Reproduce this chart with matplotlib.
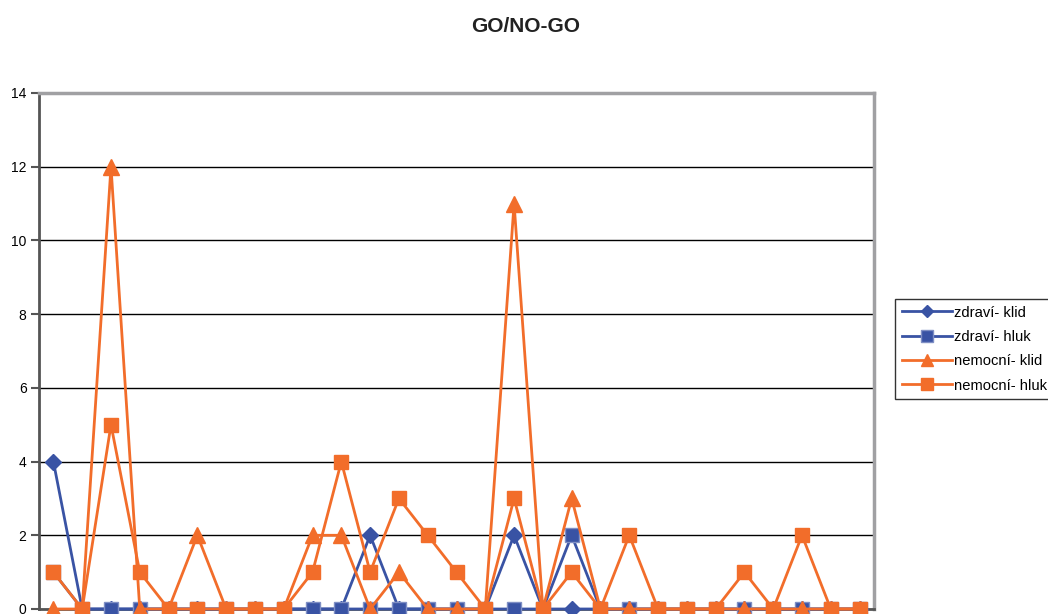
import matplotlib.pyplot as plt
import numpy as np

# GO/NO-GO error counts per subject
subjects = np.arange(1, 30)
zdravi_klid = [4, 0, 0, 0, 0, 0, 0, 0, 0, 0, 0, 2, 0, 0, 0, 0, 2, 0, 0, 0,
               0, 0, 0, 0, 0, 0, 0, 0, 0]
zdravi_hluk = [1, 0, 0, 0, 0, 0, 0, 0, 0, 0, 0, 0, 0, 0, 0, 0, 0, 0, 2, 0,
               0, 0, 0, 0, 0, 0, 0, 0, 0]
nemocni_klid = [0, 0, 12, 0, 0, 2, 0, 0, 0, 2, 2, 0, 1, 0, 0, 0, 11, 0, 3, 0,
                0, 0, 0, 0, 0, 0, 0, 0, 0]
nemocni_hluk = [1, 0, 5, 1, 0, 0, 0, 0, 0, 1, 4, 1, 3, 2, 1, 0, 3, 0, 1, 0,
                2, 0, 0, 0, 1, 0, 2, 0, 0]
y_ticks = [0, 2, 4, 6, 8, 10, 12, 14]

blue = '#3953a4'
orange = '#f26d2a'

plt.rcParams['font.family'] = ['Liberation Sans', 'DejaVu Sans']

fig = plt.figure(figsize=(10.48, 6.14), dpi=100)
ax = fig.add_axes([39 / 1048, 5 / 614, 835 / 1048, 516 / 614])

ax.plot(subjects, zdravi_klid, color=blue, lw=2, marker='D', ms=8,
        clip_on=False, zorder=3, label='zdraví- klid')
ax.plot(subjects, zdravi_hluk, color=blue, lw=2, marker='s', ms=10.5,
        mec='#7f8fc4', clip_on=False, zorder=3, label='zdraví- hluk')
ax.plot(subjects, nemocni_klid, color=orange, lw=2, marker='^', ms=11,
        clip_on=False, zorder=4, label='nemocní- klid')
ax.plot(subjects, nemocni_hluk, color=orange, lw=2, marker='s', ms=10,
        clip_on=False, zorder=4, label='nemocní- hluk')

ax.set_xlim(0.5, 29.5)
ax.set_ylim(0, 14)
ax.set_yticks(y_ticks)
ax.set_xticks([])
ax.tick_params(axis='y', labelsize=10, length=6, width=1.5, color='#555555', pad=3)
ax.yaxis.grid(True, color='black', lw=1)
ax.set_axisbelow(True)

ax.spines['left'].set_color('#555555')
ax.spines['left'].set_linewidth(2)
ax.spines['bottom'].set_color('#555555')
ax.spines['bottom'].set_linewidth(2)
for side in ['top', 'right']:
    ax.spines[side].set_color('#a0a0a3')
    ax.spines[side].set_linewidth(2.5)

fig.text(526 / 1048, 1 - 27 / 614, 'GO/NO-GO', ha='center', va='center',
         fontsize=15, fontweight='bold', color='#222222')

fig.legend(loc='upper left', bbox_to_anchor=(895 / 1048, 1 - 299 / 614),
           fontsize=10.6, frameon=True, fancybox=False, edgecolor='black',
           handlelength=3.4, handletextpad=0.15, labelspacing=0.7,
           borderpad=0.45, borderaxespad=0, markerscale=0.8)

plt.savefig('out.png', dpi=100)
